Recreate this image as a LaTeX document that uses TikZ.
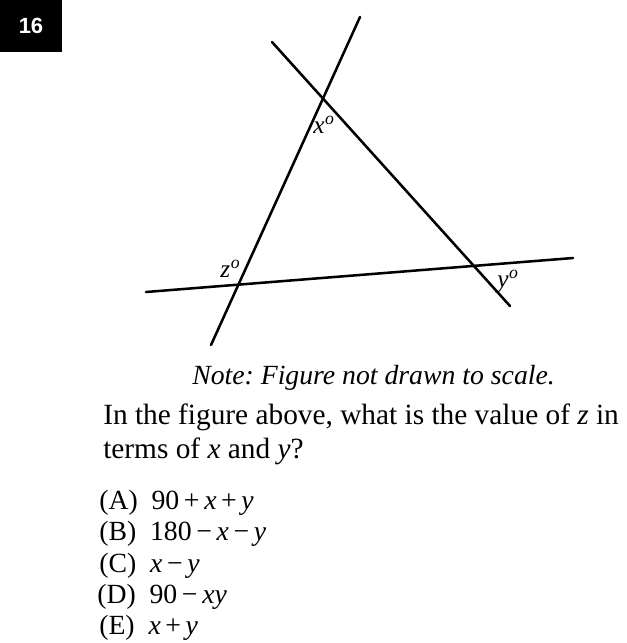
\documentclass[tikz,border=0pt]{standalone}
\usepackage{fontspec}
\setmainfont{Liberation Serif}
\newfontfamily\numfont{Liberation Sans}
\usepackage{tikz}
\usetikzlibrary{positioning}
\usetikzlibrary{calc}

\newcommand{\dg}{\textsuperscript{\kern0.5pt o}}

\begin{document}
\frenchspacing
\begin{tikzpicture}[x=0.75pt,y=-0.75pt,
    seg/.style={line width=1.9pt,line cap=round},
    ang/.style={anchor=base west,font=\fontsize{19}{19}\selectfont\itshape,inner sep=0pt},
    txt/.style={anchor=base west,inner sep=0pt,font=\fontsize{22}{26}\selectfont},
    opt/.style={anchor=base west,inner sep=0pt,font=\fontsize{20.8}{24}\selectfont}]
\useasboundingbox (0,0) rectangle (627,643);

% problem number
\fill (0,0) rectangle (62,52);
\node[text=white,font=\numfont\bfseries\fontsize{16.5}{16.5}\selectfont] (num) at (31,26) {16};

% the three lines
\coordinate (a1) at (360,17);
\coordinate (a2) at (211,345);
\coordinate (b1) at (272,42);
\coordinate (b2) at (510,306);
\coordinate (c1) at (146,292);
\coordinate (c2) at (573,258);
\draw[seg] (a1) -- (a2);
\draw[seg] (b1) -- (b2);
\draw[seg] (c1) -- (c2);

% angle labels
\node[ang] (xl) at (313,133) {x\dg};
\node[ang] (zl) at (220,277) {z\dg};
\node[ang] (yl) at (497,287) {y\dg};

\node[txt,font=\fontsize{20.8}{24}\selectfont\itshape] (note) at (192,384) {Note: Figure not drawn to scale.};

\node[txt] (q1) at (103,424) {In the figure above, what is the value of \textit{z} in};
\node[txt] (q2) at (103,458) {terms of \textit{x} and \textit{y}?};

\node[opt] (oa) at (99,509) {(A)\enspace 90\,+\,\textit{x}\,+\,\textit{y}};
\node[opt] (ob) at (99,540) {(B)\enspace 180\,\textminus\,\textit{x}\,\textminus\,\textit{y}};
\node[opt] (oc) at (99,572) {(C)\enspace \textit{x}\,\textminus\,\textit{y}};
\node[opt] (od) at (97,603) {(D)\enspace 90\,\textminus\,\textit{xy}};
\node[opt] (oe) at (99,634) {(E)\enspace \textit{x}\,+\,\textit{y}};
\end{tikzpicture}
\end{document}
